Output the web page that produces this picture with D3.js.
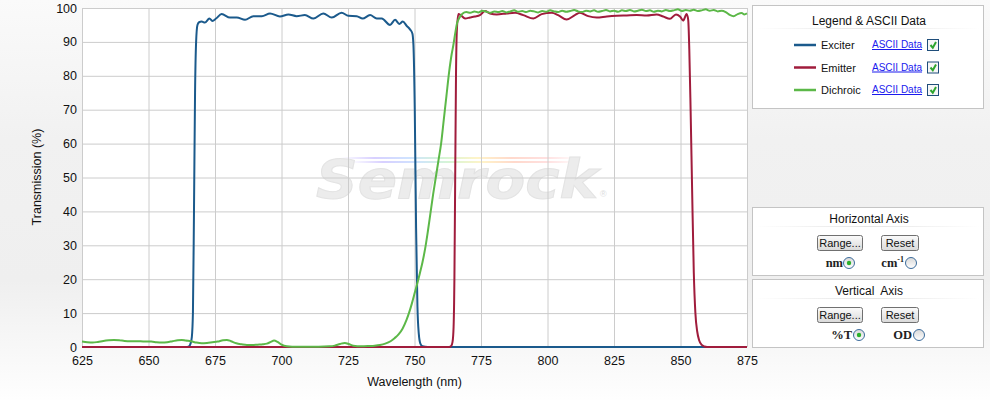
<!DOCTYPE html>
<html>
<head>
<meta charset="utf-8">
<script src="https://cdn.jsdelivr.net/npm/d3@7"></script>
<style>
  body { margin: 0; background: #fff; }
  svg text { font-family: "Liberation Sans", Arial, sans-serif; }
</style>
</head>
<body>
<div id="chart"></div>
<script>
// wavelength (nm) / transmission (%)
const exciterNm = [625, 664, 665.2, 665.8, 666.3, 666.7, 667.1, 667.5, 667.9, 668.4, 669, 670, 671.2, 672.9, 674, 675.4, 677.5, 680.6, 683.2, 686.3, 689.4, 692.6, 695.7, 699.4, 702.6, 705.7, 708.8, 712, 715.7, 718.9, 722.6, 725.1, 728.3, 730.5, 733.3, 735.8, 737.7, 740.8, 742.7, 744.3, 745.6, 747.1, 748.3, 749.2, 749.6, 750.1, 750.6, 751.1, 751.6, 752.2, 753, 755, 875]
const exciterT  = [0, 0, 0.2, 1, 3, 10, 40, 75, 90, 95, 95.8, 96, 95.7, 96.9, 96.2, 96.9, 98.2, 97.2, 97.2, 96.5, 97.6, 97.6, 98.4, 97.5, 98.1, 97.6, 97.9, 96.9, 98.4, 97.2, 98.6, 97.7, 97.6, 96.9, 97.9, 96.9, 96.9, 95.0, 96.5, 95.3, 96, 94.7, 93.7, 92.5, 89, 70, 35, 12, 4, 1, 0.2, 0, 0]

const emitterNm = [625, 760, 763, 763.8, 764.3, 764.7, 765, 765.3, 765.6, 765.9, 766.5, 767.4, 769, 770.9, 772.7, 774.6, 776.5, 778.4, 780.9, 784.7, 787.8, 790.9, 794.7, 797.8, 801.6, 804, 807.2, 810.3, 812.2, 815.3, 818.5, 822.3, 826, 829.8, 833.5, 837.3, 841, 843.5, 846, 848.3, 849.8, 851, 852.3, 852.9, 853.3, 853.8, 854.4, 855, 855.6, 856.3, 857, 858, 859, 860, 875]
const emitterT  = [0, 0, 0, 0.3, 1.5, 6, 20, 50, 80, 93, 98.2, 97.9, 96.9, 97.2, 97.5, 97.9, 99.1, 98.4, 98.1, 98.4, 98.6, 97.9, 96.9, 98.2, 98.6, 97.9, 96.6, 97.9, 98.6, 97.6, 97.2, 97.5, 97.7, 97.8, 97.9, 97.8, 98.1, 97.5, 96.8, 98.1, 97.5, 96.3, 98.2, 96.5, 88, 70, 45, 22, 10, 4.5, 2, 0.6, 0.15, 0, 0]

const dichroicNm = [625, 627, 629, 631, 633, 635, 637, 639, 641, 643, 645, 647, 649, 651, 653, 655, 657, 659, 661, 662.5, 664, 666, 668, 670, 672, 674, 676, 678, 679.5, 681, 683, 685, 687, 689, 691, 693, 694.5, 696, 697.2, 698.5, 700, 702, 704, 706, 710, 714, 718, 720, 722, 723.8, 725.5, 727, 730, 733, 735, 737, 739, 741, 742.5, 744, 745.5, 747, 748, 749, 750.2, 751, 752, 753, 754, 755, 756, 757, 758, 759, 760, 761, 762, 763, 764, 764.6, 765.3, 766, 766.8,
  768, 769.5, 771, 772.5, 774, 775.5, 777, 778.5, 780, 781.5, 783, 784.5, 786, 787.5, 789, 790.5, 792, 793.5, 795, 796.5, 798, 799.5, 801, 802.5, 804, 805.5, 807, 808.5, 810, 811.5, 813, 814.5, 816, 817.5, 819, 820.5, 822, 823.5, 825, 826.5, 828, 829.5, 831, 832.5, 834, 835.5, 837, 838.5, 840, 841.5, 843, 844.5, 846, 847.5, 849, 850.5, 852, 853.5, 855, 856.5, 858, 859.5, 861, 862.5, 864, 865.5, 867, 868.5, 870, 871.5, 873, 874, 875]
const dichroicT  = [1.6, 1.4, 1.3, 1.5, 1.8, 2.0, 2.1, 2.0, 1.8, 1.7, 1.7, 1.7, 1.6, 1.6, 1.4, 1.3, 1.4, 1.7, 2.0, 2.1, 1.9, 1.7, 1.3, 1.1, 1.2, 1.4, 1.6, 2.0, 2.1, 1.7, 1.1, 0.8, 0.6, 0.6, 0.7, 0.8, 1.0, 1.5, 1.9, 1.5, 0.7, 0.2, 0.1, 0.1, 0.1, 0.1, 0.2, 0.4, 0.9, 1.2, 0.8, 0.4, 0.2, 0.3, 0.4, 0.6, 1.0, 1.7, 2.6, 3.7, 5.4, 8.0, 10.2, 12.8, 16.3, 18.6, 21.7, 25, 29, 34, 39.5, 45, 50, 55, 60, 67, 74, 81, 86.5, 89, 92.5, 95.5, 97,
  98.3, 98.8, 98.6, 99.0, 98.7, 99.2, 98.9, 98.6, 99.0, 98.8, 99.1, 98.7, 99.0, 99.3, 98.9, 99.1, 98.8, 99.2, 99.0, 98.7, 99.1, 98.9, 99.3, 99.0, 98.8, 99.2, 98.9, 99.1, 99.4, 99.0, 98.8, 99.2, 99.0, 99.3, 98.9, 99.1, 99.4, 99.0, 99.2, 98.9, 99.3, 99.1, 99.4, 99.0, 99.2, 99.5, 99.1, 99.3, 98.9, 99.2, 99.0, 99.4, 99.1, 99.3, 99.6, 99.1, 99.4, 99.2, 99.5, 99.1, 99.3, 99.6, 99.2, 99.4, 99.0, 99.2, 98.8, 98.0, 97.6, 98.2, 98.5, 98.1, 98.4]

const xTicks = [625, 650, 675, 700, 725, 750, 775, 800, 825, 850, 875]
const yTicks = [0, 10, 20, 30, 40, 50, 60, 70, 80, 90, 100]

const seriesNames = ['Exciter', 'Emitter', 'Dichroic']
const seriesColors = ['#1b5a8c', '#a01c3c', '#5cb848']

const W = 990, H = 400
const plot = { left: 82, right: 747, top: 8, bottom: 347 }

const svg = d3.select('#chart').append('svg')
  .attr('width', W)
  .attr('height', H)

const defs = svg.append('defs')
const bg = defs.append('linearGradient').attr('id', 'bg').attr('x1', 0).attr('y1', 0).attr('x2', 0).attr('y2', 1)
bg.append('stop').attr('offset', '0%').attr('stop-color', '#fafafa')
bg.append('stop').attr('offset', '35%').attr('stop-color', '#f1f1f1')
bg.append('stop').attr('offset', '70%').attr('stop-color', '#efefef')
bg.append('stop').attr('offset', '88%').attr('stop-color', '#f8f8f8')
bg.append('stop').attr('offset', '100%').attr('stop-color', '#fefefe')

const rainbow = defs.append('linearGradient').attr('id', 'rainbow')
const rbColors = ['#ffffff', '#d8d0ff', '#cfe3ff', '#d6f5d6', '#fff4c8', '#ffd9cc', '#ffe0e0', '#ffffff']
rbColors.forEach((c, i) => rainbow.append('stop').attr('offset', (i / (rbColors.length - 1) * 100) + '%').attr('stop-color', c))

const btnGrad = defs.append('linearGradient').attr('id', 'btn').attr('x1', 0).attr('y1', 0).attr('x2', 0).attr('y2', 1)
btnGrad.append('stop').attr('offset', '0%').attr('stop-color', '#fbfbfb')
btnGrad.append('stop').attr('offset', '100%').attr('stop-color', '#d9d9d9')

const radGrad = defs.append('linearGradient').attr('id', 'rad').attr('x1', 0).attr('y1', 0).attr('x2', 0).attr('y2', 1)
radGrad.append('stop').attr('offset', '0%').attr('stop-color', '#d8d8d8')
radGrad.append('stop').attr('offset', '100%').attr('stop-color', '#ffffff')

const sepGrad = defs.append('linearGradient').attr('id', 'sep')
sepGrad.append('stop').attr('offset', '0%').attr('stop-color', '#ffffff')
sepGrad.append('stop').attr('offset', '50%').attr('stop-color', '#e4e4e4')
sepGrad.append('stop').attr('offset', '100%').attr('stop-color', '#ffffff')

svg.append('rect').attr('width', W).attr('height', H).attr('fill', 'url(#bg)')

// plot area
svg.append('rect')
  .attr('x', plot.left).attr('y', plot.top)
  .attr('width', plot.right - plot.left).attr('height', plot.bottom - plot.top)
  .attr('fill', '#fff')

// watermark
const wm = svg.append('g')
wm.append('rect').attr('x', 340).attr('y', 157).attr('width', 240).attr('height', 2).attr('fill', 'url(#rainbow)')
wm.append('rect').attr('x', 350).attr('y', 161).attr('width', 230).attr('height', 2).attr('fill', 'url(#rainbow)')
wm.append('text')
  .attr('x', 316).attr('y', 198)
  .attr('textLength', 282).attr('lengthAdjust', 'spacingAndGlyphs')
  .style('font-family', '"DejaVu Sans", sans-serif')
  .style('font-size', '54px').style('font-weight', 'bold').style('font-style', 'italic')
  .attr('fill', '#ececec').attr('stroke', '#e3e3e3').attr('stroke-width', 1)
  .text('Semrock')
wm.append('text').attr('x', 600).attr('y', 197).style('font-size', '9px').attr('fill', '#dddddd').text('®')

const x = d3.scaleLinear().domain([625, 875]).range([plot.left, plot.right])
const y = d3.scaleLinear().domain([0, 100]).range([plot.bottom, plot.top])

const xAxis = svg.append('g')
  .attr('transform', `translate(0,${plot.bottom})`)
  .call(d3.axisBottom(x).tickValues(xTicks).tickSize(-(plot.bottom - plot.top)).tickPadding(9))
const yAxis = svg.append('g')
  .attr('transform', `translate(${plot.left},0)`)
  .call(d3.axisLeft(y).tickValues(yTicks).tickSize(-(plot.right - plot.left)).tickPadding(5))

;[xAxis, yAxis].forEach(a => {
  a.select('.domain').remove()
  a.selectAll('.tick line').attr('stroke', '#cccccc')
  a.selectAll('.tick text')
    .attr('fill', '#111')
    .style('font-family', '"Liberation Sans", Arial, sans-serif')
    .style('font-size', '12.5px')
})

svg.append('text')
  .attr('x', (plot.left + plot.right) / 2).attr('y', 386)
  .attr('text-anchor', 'middle')
  .style('font-size', '12.5px').attr('fill', '#111')
  .text('Wavelength (nm)')
svg.append('text')
  .attr('transform', 'translate(41,177) rotate(-90)')
  .attr('text-anchor', 'middle')
  .style('font-size', '12.5px').attr('fill', '#111')
  .text('Transmission (%)')

// curves
const line = d3.line()
  .x(d => x(d[0]))
  .y(d => y(d[1]))
  .curve(d3.curveMonotoneX)

const series = [
  d3.zip(exciterNm, exciterT),
  d3.zip(emitterNm, emitterT),
  d3.zip(dichroicNm, dichroicT)
]

svg.selectAll('path.curve')
  .data(series)
  .enter()
  .append('path')
  .attr('class', 'curve')
  .attr('d', line)
  .attr('fill', 'none')
  .attr('stroke', (d, i) => seriesColors[i])
  .attr('stroke-width', 2)
  .attr('stroke-linejoin', 'round')

// side panels
const panel = (y0, y1) => svg.append('rect')
  .attr('x', 752.5).attr('y', y0 + 0.5)
  .attr('width', 231).attr('height', y1 - y0)
  .attr('fill', '#fff').attr('stroke', '#c4c4c4')

const header = (label, yBase, ySep) => {
  svg.append('text').attr('x', 869).attr('y', yBase).attr('text-anchor', 'middle')
    .style('font-size', '12px').attr('fill', '#111').attr('xml:space', 'preserve').text(label)
  svg.append('rect').attr('x', 755).attr('y', ySep).attr('width', 226).attr('height', 1).attr('fill', 'url(#sep)')
}

panel(5, 108)
header('Legend & ASCII Data', 25, 28)

const rowY = [45, 67.5, 90]
seriesNames.forEach((name, i) => {
  const ry = rowY[i]
  svg.append('line').attr('x1', 794).attr('x2', 816).attr('y1', ry).attr('y2', ry)
    .attr('stroke', seriesColors[i]).attr('stroke-width', 2.5)
  svg.append('text').attr('x', 821).attr('y', ry + 4)
    .style('font-size', '11px').attr('fill', '#111').text(name)
  svg.append('text').attr('x', 872).attr('y', ry + 3)
    .style('font-size', '10px').attr('fill', '#1a1aee')
    .style('text-decoration', 'underline').text('ASCII Data')
  svg.append('rect').attr('x', 927.5).attr('y', ry - 5.5).attr('width', 11).attr('height', 11)
    .attr('fill', '#f6f6f6').attr('stroke', '#1f4e7a')
  svg.append('path').attr('d', `M930.5,${ry} L932.8,${ry + 2.8} L936,${ry - 3}`)
    .attr('fill', 'none').attr('stroke', '#2ea52e').attr('stroke-width', 2)
})

const button = (bx, by, w, label) => {
  svg.append('rect').attr('x', bx + 0.5).attr('y', by + 0.5).attr('width', w).attr('height', 15).attr('rx', 2)
    .attr('fill', 'url(#btn)').attr('stroke', '#707070')
  svg.append('text').attr('x', bx + w / 2 + 0.5).attr('y', by + 12).attr('text-anchor', 'middle')
    .style('font-size', '11px').attr('fill', '#111').text(label)
}

const radio = (cx, cy, on) => {
  svg.append('circle').attr('cx', cx).attr('cy', cy).attr('r', 5.5)
    .attr('fill', 'url(#rad)').attr('stroke', '#3c6c9c')
  if (on) svg.append('circle').attr('cx', cx).attr('cy', cy).attr('r', 2.2).attr('fill', '#2bb02b')
}

const serifLabel = (tx, ty) => svg.append('text').attr('x', tx).attr('y', ty)
  .attr('text-anchor', 'end')
  .style('font-family', '"Liberation Serif", "Times New Roman", serif')
  .style('font-size', '12.5px').style('font-weight', 'bold').attr('fill', '#222')

panel(207, 275)
header('Horizontal Axis', 223, 226)
button(817, 235, 45, 'Range...')
button(881, 235, 37, 'Reset')
serifLabel(843, 267).text('nm')
radio(849, 263, true)
const cm = serifLabel(904, 267)
cm.append('tspan').text('cm')
cm.append('tspan').attr('dy', -5).style('font-size', '8px').text('-1')
radio(911, 263, false)

panel(279, 347)
header('Vertical  Axis', 295, 298)
button(817, 307, 45, 'Range...')
button(881, 307, 37, 'Reset')
serifLabel(852, 339).text('%T')
radio(859, 335, true)
serifLabel(912, 339).text('OD')
radio(919, 335, false)
</script>
</body>
</html>
